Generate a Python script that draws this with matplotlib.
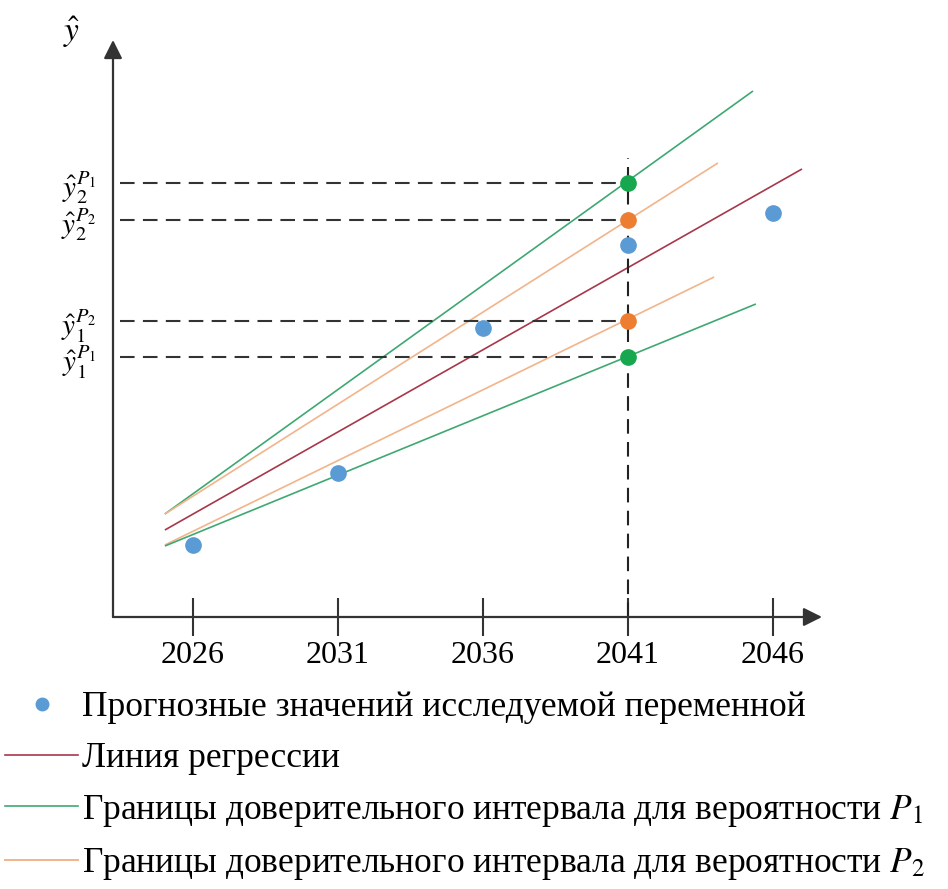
import matplotlib
matplotlib.use('Agg')
from matplotlib import pyplot as plt
from matplotlib.lines import Line2D

plt.rcParams['font.family'] = ['Liberation Serif', 'DejaVu Serif']
plt.rcParams['mathtext.fontset'] = 'stix'

# forecast points
years = [2026, 2031, 2036, 2041, 2046]
forecast = [72, 144, 289, 372, 404]

# line start / end (year, value)
line_x0 = 2025.03
reg_line = [(line_x0, 87), (2047.0, 448)]
p1_upper = [(line_x0, 103), (2045.31, 526)]
p1_lower = [(line_x0, 71), (2045.41, 313)]
p2_upper = [(line_x0, 103), (2044.10, 454)]
p2_lower = [(line_x0, 72), (2043.97, 340)]

# interval bounds at the chosen year
x_star = 2041
y2_p1, y2_p2, y1_p2, y1_p1 = 434, 397, 296, 260
vline_top = 459

c_blue = '#5B9BD5'
c_red = '#A8374A'
c_green_line = '#3FA872'
c_green = '#17A74E'
c_orange_line = '#F2B48A'
c_orange = '#ED7D31'
c_axis = '#333333'

W, H = 948, 889
fig = plt.figure(figsize=(W / 100, H / 100), dpi=100)
ax = fig.add_axes([113 / W, (H - 617) / H, (822 - 113) / W, (617 - 40) / H])
ax.set_xlim(2026 - 80 / 29, 2026 + 629 / 29)
ax.set_ylim(0, 577)
for s in ax.spines.values():
    s.set_visible(False)

# axes with arrows
ax.annotate('', xy=(0, 1), xytext=(0, 0), xycoords='axes fraction',
            arrowprops=dict(arrowstyle='-|>', lw=1.6, color=c_axis, mutation_scale=28,
                            shrinkA=0, shrinkB=0))
ax.annotate('', xy=(1, 0), xytext=(0, 0), xycoords='axes fraction',
            arrowprops=dict(arrowstyle='-|>', lw=1.6, color=c_axis, mutation_scale=28,
                            shrinkA=0, shrinkB=0))

def seg(pts, color, lw=1.2):
    ax.plot([pts[0][0], pts[1][0]], [pts[0][1], pts[1][1]], color=color, lw=lw,
            solid_capstyle='butt')

seg(p1_upper, c_green_line)
seg(p2_upper, c_orange_line)
seg(reg_line, c_red)
seg(p2_lower, c_orange_line)
seg(p1_lower, c_green_line)

# dashed guides
dash = (7, 4)
for yv in [y2_p1, y2_p2, y1_p2, y1_p1]:
    ax.plot([ax.get_xlim()[0] + 0.25, x_star], [yv, yv], color='#333333', lw=1.5,
            dashes=dash)
ax.plot([x_star, x_star], [0, vline_top], color='#222222', lw=1.5, dashes=dash)

ax.plot(years, forecast, 'o', color=c_blue, ms=11, zorder=5)
ax.plot([x_star, x_star], [y2_p1, y1_p1], 'o', color=c_green, ms=11, ls='none', zorder=5)
ax.plot([x_star, x_star], [y2_p2, y1_p2], 'o', color=c_orange, ms=11, ls='none', zorder=5)

ax.set_xticks(years)
ax.set_xticklabels([str(y) for y in years], fontsize=23)
ax.tick_params(axis='x', direction='inout', length=27, width=1.5, color=c_axis, pad=4)
ax.set_yticks([y2_p1, y2_p2, y1_p2, y1_p1])
ax.set_yticklabels([r'$\hat{y}_2^{P_1}$', r'$\hat{y}_2^{P_2}$',
                    r'$\hat{y}_1^{P_2}$', r'$\hat{y}_1^{P_1}$'], fontsize=21)
ax.tick_params(axis='y', length=0, pad=12)

fig.text(72 / W, 1 - 32 / H, r'$\hat{y}$', fontsize=24, ha='center', va='center')

handles = [
    Line2D([], [], marker='o', color=c_blue, ls='none', ms=9),
    Line2D([], [], color=c_red, lw=1.2),
    Line2D([], [], color=c_green_line, lw=1.2),
    Line2D([], [], color=c_orange_line, lw=1.4),
]
labels = [
    'Прогнозные значений исследуемой переменной',
    'Линия регрессии',
    'Границы доверительного интервала для вероятности $P_1$',
    'Границы доверительного интервала для вероятности $P_2$',
]
fig.legend(handles, labels, loc='upper left', bbox_to_anchor=(0.0, (H - 686) / H),
           frameon=False, fontsize=25.5, handlelength=2.05, handletextpad=0.12,
           labelspacing=0.5, borderaxespad=0, borderpad=0.15)

fig.savefig('out.png', dpi=100)
